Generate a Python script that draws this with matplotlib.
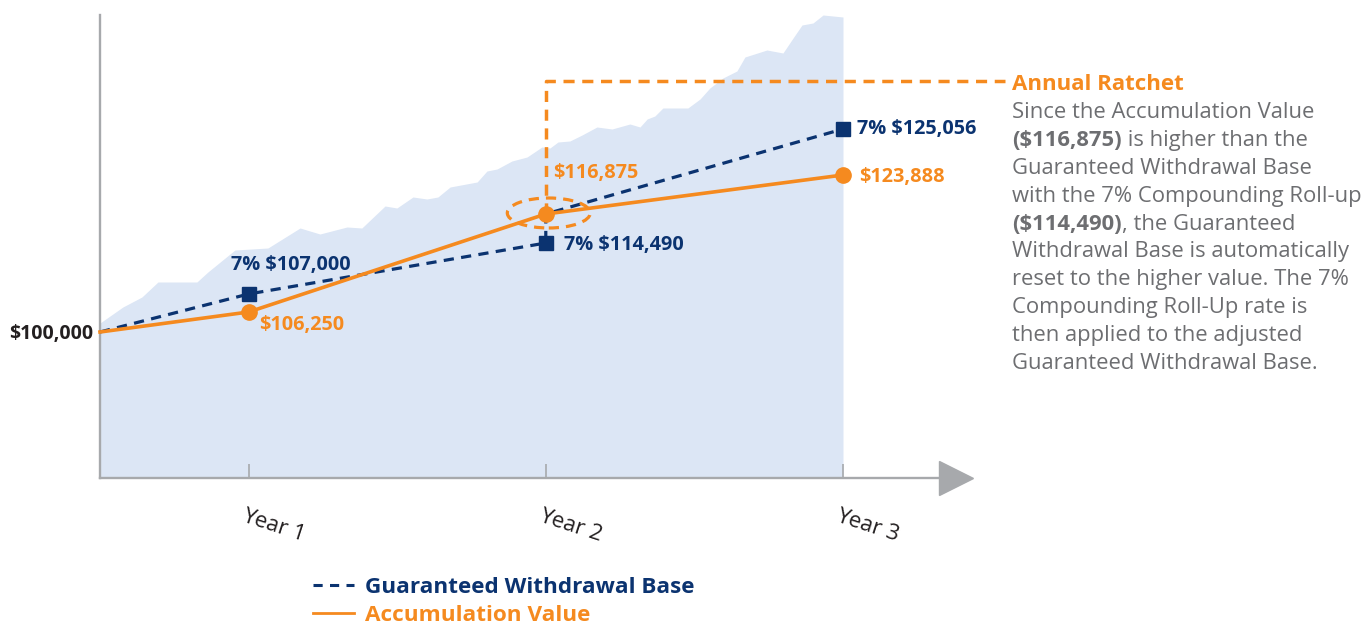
import matplotlib
matplotlib.use("Agg")
import matplotlib.pyplot as plt
from matplotlib.lines import Line2D
from matplotlib.patches import Ellipse

plt.rcParams["font.family"] = ["Open Sans", "DejaVu Sans"]
plt.rcParams["text.parse_math"] = False

ORANGE = "#F58A1F"
NAVY = "#0B3370"
AREA = "#DCE6F5"
AXIS_GRAY = "#A7A9AC"
TEXT_GRAY = "#6D6E71"
DARK = "#231F20"
PX = 0.72  # points per pixel at dpi 100

# x in years (0.5 = start), y in chart units (chart is not to scale)
gwb_x = [0.5, 1, 2, 2, 3]
gwb_level = [146, 184, 235, 264, 349]
gwb_labels = ["7% $107,000", "7% $114,490", "7% $125,056"]

av_x = [0.5, 1, 2, 3]
av_level = [146, 166, 264, 303]
av_labels = ["$106,250", "$116,875", "$123,888"]

start_label = "$100,000"
year_ticks = [1, 2, 3]
year_labels = ["Year 1", "Year 2", "Year 3"]

# market movement behind the lines
market_x = [0.500, 0.577, 0.641, 0.695, 0.826, 0.863, 0.954, 1.065, 1.173, 1.240,
            1.331, 1.381, 1.459, 1.499, 1.553, 1.600, 1.637, 1.678, 1.769, 1.802,
            1.836, 1.886, 1.937, 1.987, 2.014, 2.041, 2.081, 2.122, 2.172, 2.223,
            2.283, 2.317, 2.341, 2.367, 2.394, 2.478, 2.519, 2.552, 2.596, 2.643,
            2.670, 2.744, 2.798, 2.832, 2.862, 2.899, 2.933, 3.000]
market_level = [155, 171, 181, 196, 196, 206, 228, 230, 250, 244,
                251, 250, 272, 270, 281, 279, 281, 291, 296, 307,
                309, 317, 321, 331, 330, 336, 337, 343, 351, 349,
                354, 351, 359, 362, 370, 370, 379, 390, 400, 407,
                421, 428, 425, 440, 453, 455, 463, 461]

# ratchet callout path
ratchet_x = [2, 2, 3.545]
ratchet_level = [264, 397, 397]

note_title = "Annual Ratchet"
note_lines = [
    [("Since the Accumulation Value", False)],
    [("($116,875)", True), (" is higher than the", False)],
    [("Guaranteed Withdrawal Base", False)],
    [("with the 7% Compounding Roll-up", False)],
    [("($114,490)", True), (", the Guaranteed", False)],
    [("Withdrawal Base is automatically", False)],
    [("reset to the higher value. The 7%", False)],
    [("Compounding Roll-Up rate is", False)],
    [("then applied to the adjusted", False)],
    [("Guaranteed Withdrawal Base.", False)],
]

fig = plt.figure(figsize=(13.72, 6.26), dpi=100)
ax = fig.add_axes([0, 0, 1, 1])
ax.set_xlim(0.1635, 4.78)
ax.set_ylim(-148, 478)
ax.patch.set_alpha(0)

ax.fill_between(market_x, market_level, 0, color=AREA, lw=0, zorder=1)

# axes
for side in ["top", "right"]:
    ax.spines[side].set_visible(False)
ax.spines["left"].set_position(("data", 0.5))
ax.spines["bottom"].set_position(("data", 0))
ax.spines["left"].set_bounds(0, 463)
ax.spines["bottom"].set_bounds(0.5, 3.33)
for side in ["left", "bottom"]:
    ax.spines[side].set_color(AXIS_GRAY)
    ax.spines[side].set_linewidth(1.7)
ax.plot([3.38], [0], marker=">", ms=25, color=AXIS_GRAY, clip_on=False, zorder=2)

ax.set_xticks(year_ticks)
ax.set_xticklabels([])
ax.tick_params(axis="x", direction="in", length=10, width=1.2, color=AXIS_GRAY)
ax.set_yticks([gwb_level[0]])
ax.set_yticklabels([start_label], fontsize=14, fontweight="bold", color=DARK)
ax.tick_params(axis="y", length=0, pad=5)

for yr, lab in zip(year_ticks, year_labels):
    ax.annotate(lab, xy=(yr, 0), xytext=(25 * PX, -48 * PX), textcoords="offset points",
                rotation=-18, rotation_mode="anchor", ha="center", va="center",
                fontsize=16, color=DARK)

# Guaranteed Withdrawal Base
ax.plot(gwb_x, gwb_level, color=NAVY, lw=2.3, dashes=(3.2, 2.3), zorder=3)
mk_idx = [1, 2, 4]
ax.plot([gwb_x[i] for i in mk_idx], [gwb_level[i] for i in mk_idx], ls="none",
        marker="s", ms=9.5, color=NAVY, zorder=4)
for i, lab, off in zip(mk_idx, gwb_labels, [(-18, 29), (18, -2), (14, 0)]):
    ax.annotate(lab, xy=(gwb_x[i], gwb_level[i]), xytext=(off[0] * PX, off[1] * PX),
                textcoords="offset points", ha="left", va="center",
                fontsize=14.3, fontweight="bold", color=NAVY, zorder=7)

# ratchet callout
ax.plot(ratchet_x, ratchet_level, color=ORANGE, lw=2.5, dashes=(3.2, 2.2), zorder=3.5,
        clip_on=False)
ax.add_patch(Ellipse((2.01, 265), width=0.279, height=30, fill=False, ec=ORANGE,
                     lw=2.3, ls=(0, (3.2, 2.2)), zorder=3.5))

# Accumulation Value
ax.plot(av_x, av_level, color=ORANGE, lw=2.6, zorder=5)
ax.plot(av_x[1:], av_level[1:], ls="none", marker="o", ms=11, color=ORANGE, zorder=6)
for x, y, lab, off in zip(av_x[1:], av_level[1:], av_labels, [(11, -13), (7, 41), (16, -2)]):
    ax.annotate(lab, xy=(x, y), xytext=(off[0] * PX, off[1] * PX),
                textcoords="offset points", ha="left", va="center",
                fontsize=14.3, fontweight="bold", color=ORANGE, zorder=7)

# note on the right
end = (ratchet_x[-1], ratchet_level[-1])
ax.annotate(note_title, xy=end, xytext=(7 * PX, -3 * PX), textcoords="offset points",
            ha="left", va="center", fontsize=16, fontweight="bold", color=ORANGE)
for i, line in enumerate(note_lines):
    prev = None
    for seg, bold in line:
        w = "bold" if bold else "normal"
        if prev is None:
            prev = ax.annotate(seg, xy=end, xytext=(7 * PX, -(31.5 + i * 27.9) * PX),
                               textcoords="offset points", ha="left", va="center",
                               fontsize=15.8, fontweight=w, color=TEXT_GRAY)
        else:
            prev = ax.annotate(seg, xy=(1, 0), xycoords=prev, ha="left", va="bottom",
                               fontsize=15.8, fontweight=w, color=TEXT_GRAY)

# legend
handles = [
    Line2D([], [], color=NAVY, lw=2.2, dashes=(3.0, 2.4)),
    Line2D([], [], color=ORANGE, lw=2.0),
]
ax.legend(handles, ["Guaranteed Withdrawal Base", "Accumulation Value"],
          loc="upper left", bbox_to_anchor=(313 / 1372, 1 - 577 / 626),
          frameon=False, borderpad=0, borderaxespad=0, handlelength=1.8,
          handletextpad=0.53, labelspacing=0.32, labelcolor=[NAVY, ORANGE],
          prop={"size": 16.2, "weight": "bold"})

fig.savefig("out.png", dpi=100)
